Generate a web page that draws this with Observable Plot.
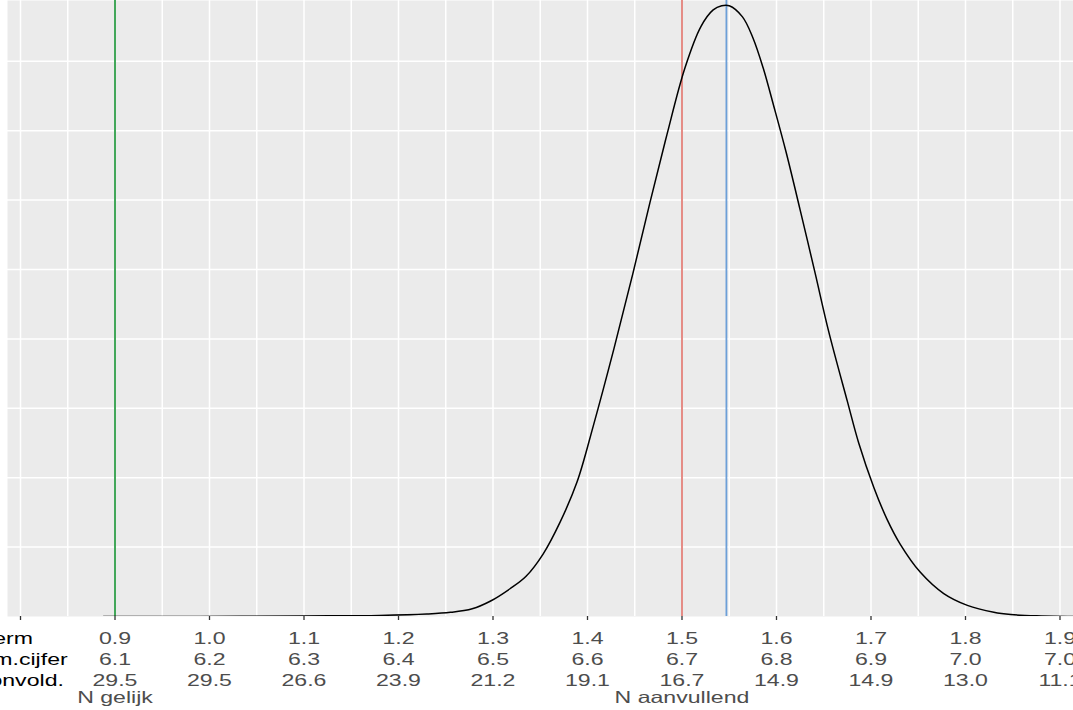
<!DOCTYPE html>
<html>
<head>
<meta charset="utf-8">
<script src="https://cdn.jsdelivr.net/npm/d3@7"></script>
<script src="https://cdn.jsdelivr.net/npm/@observablehq/plot@0.6"></script>
<style>
  body { margin: 0; background: #fff; }
  #chart svg { display: block; }
</style>
</head>
<body>
<div id="chart"></div>
<script>
// Density curve
const densityX = [0.8878, 0.990, 1.100, 1.180, 1.230, 1.255, 1.278, 1.297, 1.318, 1.335,
  1.353, 1.371, 1.389, 1.406, 1.428, 1.448, 1.466, 1.484, 1.503, 1.520, 1.533, 1.542,
  1.550, 1.564, 1.575, 1.586, 1.597, 1.610, 1.625, 1.641, 1.655, 1.675, 1.687, 1.703,
  1.717, 1.731, 1.752, 1.777, 1.802, 1.830, 1.848, 1.880, 1.908, 1.915];
const densityY = [0, 0, 0.004, 0.008, 0.018, 0.030, 0.056, 0.110, 0.200, 0.290,
  0.450, 0.680, 0.970, 1.370, 1.930, 2.470, 2.980, 3.470, 3.950, 4.250, 4.370, 4.400,
  4.400, 4.320, 4.170, 3.950, 3.680, 3.350, 2.930, 2.470, 2.060, 1.550, 1.250, 0.930,
  0.700, 0.520, 0.320, 0.165, 0.080, 0.030, 0.014, 0.004, 0, 0];

// Tick labels (three rows)
const nTerm = [0.9, 1.0, 1.1, 1.2, 1.3, 1.4, 1.5, 1.6, 1.7, 1.8, 1.9];
const gemCijfer = [6.1, 6.2, 6.3, 6.4, 6.5, 6.6, 6.7, 6.8, 6.9, 7.0, 7.0];
const pctOnvold = [29.5, 29.5, 26.6, 23.9, 21.2, 19.1, 16.7, 14.9, 14.9, 13.0, 11.1];
const rowLabels = ["N-term", "Gem.cijfer", "% onvold."];

const tickValues = [0.8, 0.9, 1.0, 1.1, 1.2, 1.3, 1.4, 1.5, 1.6, 1.7, 1.8, 1.9];
const minorBreaksX = [0.85, 0.95, 1.05, 1.15, 1.25, 1.35, 1.45, 1.55, 1.65, 1.75, 1.85];
const breaksY = [0.5, 1, 1.5, 2, 2.5, 3, 3.5, 4];

const referenceLines = [0.9, 1.5, 1.547];
const referenceColors = ["#2e9e48", "#e38079", "#6c9fd8"];
const axisTitles = ["N gelijk", "N aanvullend"];
const axisTitlePos = [0.9, 1.5];

const curve = densityX.map((x, i) => ({x, y: densityY[i]}));
const labelRows = nTerm.map((t, i) => ({
  x: t,
  text: `${t.toFixed(1)}\n${gemCijfer[i].toFixed(1)}\n${pctOnvold[i].toFixed(1)}`
}));
const titles = axisTitles.map((t, i) => ({x: axisTitlePos[i], text: t}));

const chart = Plot.plot({
  width: 1073,
  height: 710,
  marginLeft: 7,
  marginRight: 0,
  marginTop: 0,
  marginBottom: 94,
  x: {domain: [0.78624, 1.91429], axis: null},
  y: {domain: [0, 4.438], axis: null},
  style: {fontFamily: "Liberation Sans, Arial, sans-serif", background: "#fff", overflow: "hidden"},
  marks: [
    Plot.frame({fill: "#EBEBEB", stroke: null}),
    Plot.ruleX([...tickValues, ...minorBreaksX], {stroke: "#fff", strokeWidth: 1.5}),
    Plot.ruleY(breaksY, {stroke: "#fff", strokeWidth: 1.5}),
    Plot.ruleX(referenceLines, {x: d => d, stroke: (d, i) => referenceColors[i], strokeWidth: 1.8}),
    Plot.line(curve, {x: "x", y: "y", curve: "catmull-rom", stroke: "#000", strokeWidth: 1.5, clip: true}),
    Plot.axisX(tickValues, {anchor: "bottom", tickSize: 4, tickFormat: () => "", stroke: "#333", strokeWidth: 1.3, label: null}),
    Plot.text(labelRows, {
      x: "x", text: "text", frameAnchor: "bottom", dy: 12.2, lineAnchor: "top",
      lineHeight: 1.28, fontSize: 16.5, fill: "#4d4d4d", textAnchor: "middle"
    }),
    Plot.text([rowLabels.join("\n")], {
      text: d => d, frameAnchor: "bottom-left", dx: -45, dy: 12.2, lineAnchor: "top",
      lineHeight: 1.28, fontSize: 16.5, fill: "#000", textAnchor: "start"
    }),
    Plot.text(titles, {
      x: "x", text: "text", frameAnchor: "bottom", dy: 75, lineAnchor: "top",
      fontSize: 16.5, fill: "#4d4d4d", textAnchor: "middle"
    })
  ]
});

// horizontal stretch of the label texts (the reference's text is wide)
chart.querySelectorAll("text").forEach(t => {
  const tr = t.getAttribute("transform");
  if (tr) t.setAttribute("transform", tr + " scale(1.4,1)");
  else {
    const x = +t.getAttribute("x") || 0, y = +t.getAttribute("y") || 0;
    t.setAttribute("transform", `translate(${x},${y}) scale(1.4,1) translate(${-x},${-y})`);
  }
});

document.getElementById("chart").appendChild(chart);
</script>
</body>
</html>
